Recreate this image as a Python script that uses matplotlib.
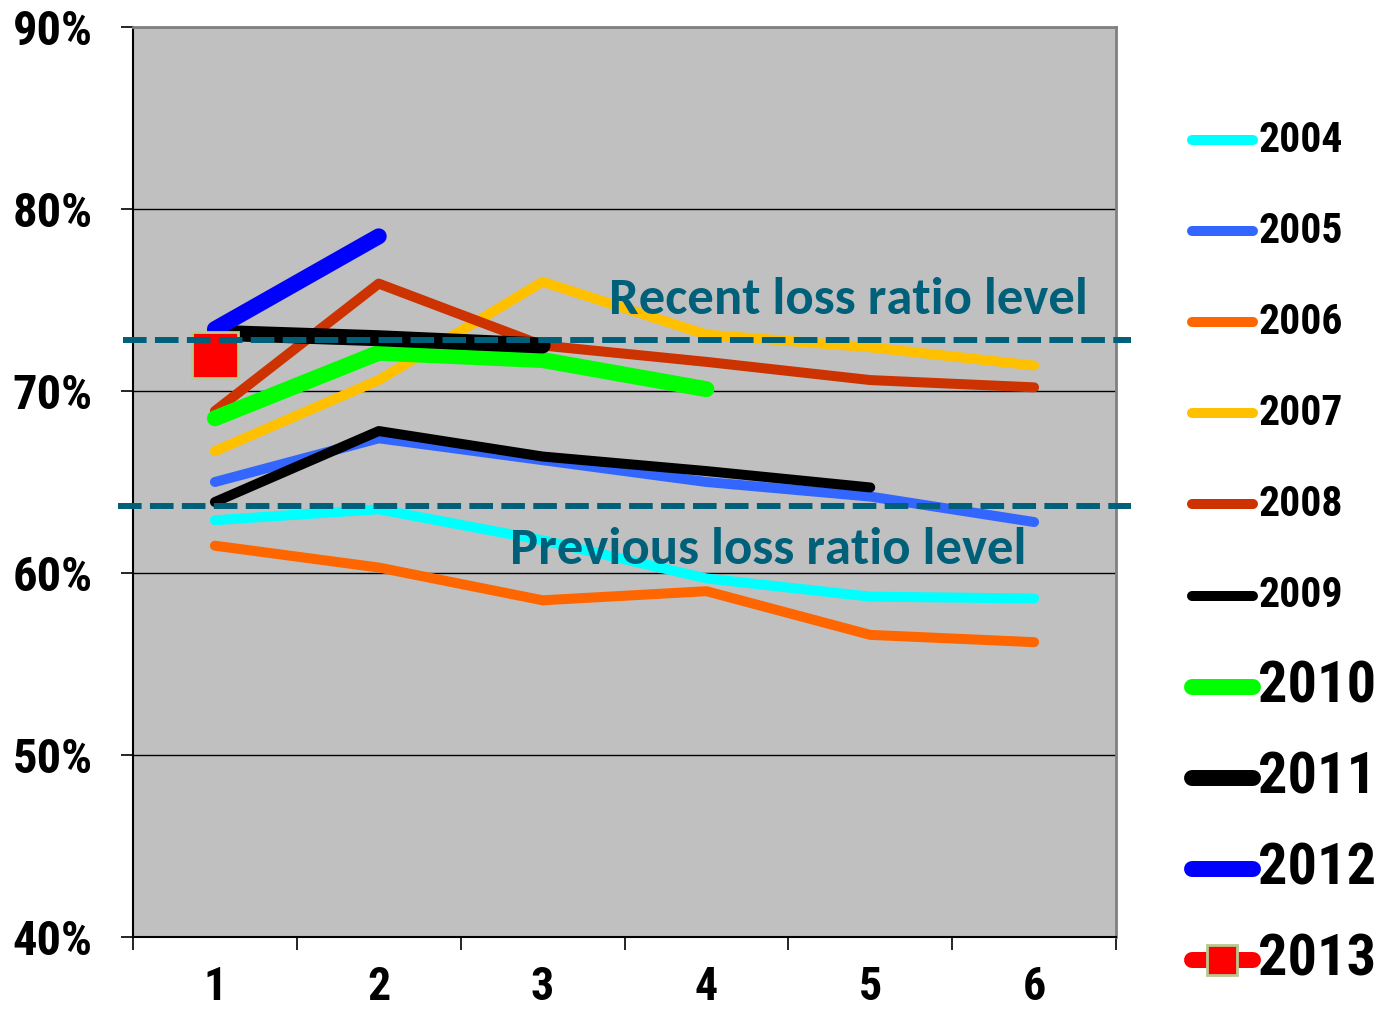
import matplotlib
matplotlib.use("Agg")
import matplotlib.pyplot as plt
from matplotlib.lines import Line2D

plt.rcParams['lines.scale_dashes'] = False

periods = [1, 2, 3, 4, 5, 6]
years = ["2004", "2005", "2006", "2007", "2008", "2009", "2010", "2011", "2012", "2013"]
y2004 = [62.9, 63.5, 61.8, 59.7, 58.7, 58.6]
y2005 = [65.0, 67.4, 66.2, 65.0, 64.2, 62.8]
y2006 = [61.5, 60.3, 58.5, 59.0, 56.6, 56.2]
y2007 = [66.7, 70.6, 76.0, 73.1, 72.4, 71.4]
y2008 = [68.9, 75.9, 72.5, 71.6, 70.6, 70.2]
y2009 = [63.9, 67.8, 66.4, 65.6, 64.7]
y2010 = [68.5, 72.1, 71.7, 70.1]
y2011 = [73.2, 72.9, 72.5]
y2012 = [73.4, 78.5]
y2013 = [72.0]
series = [y2004, y2005, y2006, y2007, y2008, y2009, y2010, y2011, y2012, y2013]
colors = ["#00FFFF", "#3366FF", "#FF6600", "#FFC000", "#CC3300",
          "#000000", "#00FF00", "#000000", "#0000FF", "#FF0000"]
widths = [7.2, 7.2, 7.2, 7.2, 7.2, 7.2, 11.5, 11.5, 11.5, 7.2]

recent_level = 72.8
previous_level = 63.7
yticks = [40, 50, 60, 70, 80, 90]
ytick_labels = ["40%", "50%", "60%", "70%", "80%", "90%"]

TEAL = "#00607A"
narrow = ['Roboto Condensed', 'Liberation Sans', 'DejaVu Sans']
calibri = ['Carlito', 'Open Sans', 'DejaVu Sans']

fig = plt.figure(figsize=(13.82, 10.14), dpi=100)
ax = fig.add_axes([133/1382, 1-937/1014, 983/1382, 910/1014])
ax.set_facecolor("#C0C0C0")

for vals, c, lw, yr in zip(series, colors, widths, years):
    xs = periods[:len(vals)]
    if yr == "2013":
        ax.plot(xs, vals, color=c, lw=lw, marker='s', markersize=33,
                markerfacecolor=c, markeredgecolor="#B8C890", markeredgewidth=2,
                zorder=3, clip_on=False)
    else:
        ax.plot(xs, vals, color=c, lw=lw, solid_capstyle='round',
                solid_joinstyle='round', zorder=3)

ax.axhline(recent_level, xmin=-0.01, xmax=1.015, color=TEAL, lw=4.3,
           dashes=(17, 6), clip_on=False, zorder=5)
ax.axhline(previous_level, xmin=-0.015, xmax=1.015, color=TEAL, lw=4.3,
           dashes=(17, 6), clip_on=False, zorder=5)

ax.text(4.865, 75.0, "Recent loss ratio level", color=TEAL, fontsize=38,
        fontweight='bold', family=calibri, ha='center', va='center', zorder=6)
ax.text(4.377, 61.3, "Previous loss ratio level", color=TEAL, fontsize=38,
        fontweight='bold', family=calibri, ha='center', va='center', zorder=6)

ax.set_ylim(40, 90)
ax.set_xlim(0.5, 6.5)
ax.set_yticks(yticks)
ax.set_yticklabels(ytick_labels)
ax.yaxis.grid(True, color='black', lw=1.0)
ax.set_axisbelow(True)

ax.set_xticks([0.5 + i for i in range(7)])
ax.set_xticklabels([])
ax.set_xticks(periods, minor=True)
ax.set_xticklabels([str(p) for p in periods], minor=True)
ax.tick_params(axis='x', which='major', direction='out', length=9, width=1.2, color='black')
ax.tick_params(axis='x', which='minor', length=0, pad=20)
ax.tick_params(axis='y', direction='out', length=9, width=1.2, pad=20)
for lab in ax.get_yticklabels():
    lab.set_fontsize(35)
    lab.set_fontweight('bold')
    lab.set_family(narrow)
for lab in ax.get_xticklabels(minor=True):
    lab.set_fontsize(33)
    lab.set_fontweight('bold')
    lab.set_family(narrow)

for s in ['top', 'right']:
    ax.spines[s].set_color('#808080')
    ax.spines[s].set_linewidth(2)
ax.spines['left'].set_color('black')
ax.spines['left'].set_linewidth(1.5)
ax.spines['bottom'].set_color('black')
ax.spines['bottom'].set_linewidth(1.5)

# legend drawn manually
W, H = 1382, 1014
for i, (yr, c) in enumerate(zip(years, colors)):
    yc = 1 - (140 + i * 91.1) / H
    big = i >= 6
    lw = 11.5 if big else 7.2
    fig.add_artist(Line2D([1192/W, 1253/W], [yc, yc], color=c, lw=lw,
                          solid_capstyle='round', transform=fig.transFigure))
    if yr == "2013":
        fig.add_artist(Line2D([1222/W], [yc], marker='s', markersize=22,
                              markerfacecolor=c, markeredgecolor="#B8C890",
                              markeredgewidth=2, transform=fig.transFigure))
    fig.text(1258/W, yc, yr, fontsize=42 if big else 30, fontweight='bold',
             family=narrow, va='center', ha='left')

fig.savefig("out.png", dpi=100)
